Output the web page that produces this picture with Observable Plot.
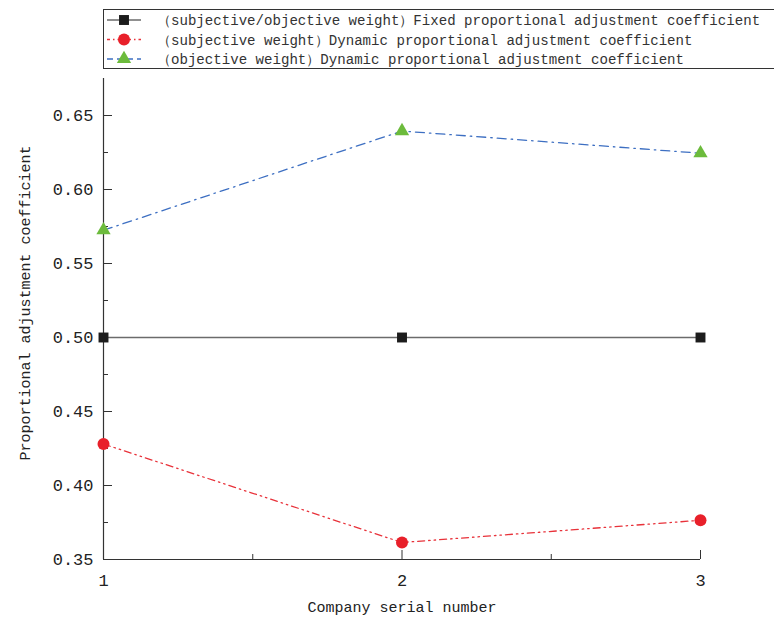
<!DOCTYPE html>
<html>
<head>
<meta charset="utf-8">
<script src="https://cdn.jsdelivr.net/npm/d3@7"></script>
<script src="https://cdn.jsdelivr.net/npm/@observablehq/plot@0.6"></script>
<style>
  html, body { margin: 0; padding: 0; background: #fff; }
  #wrap { position: relative; width: 774px; height: 618px; overflow: hidden; font-family: "Liberation Mono", monospace; }
  #legend { position: absolute; left: 103px; top: 9px; width: 690px; height: 60px; border: 1px solid #333; box-sizing: border-box; background: #fff; }
  #chart { position: absolute; left: 0; top: 0; }
</style>
</head>
<body>
<div id="wrap">
  <div id="chart"></div>
  <div id="legend"></div>
</div>
<script>
// ---- data ----
const companies = [1, 2, 3];
const fixedCoef = [0.5, 0.5, 0.5];
const subjectiveCoef = [0.428, 0.3615, 0.3765];
const objectiveCoef = [0.5725, 0.6395, 0.6245];
const seriesNames = [
  "（subjective/objective weight）Fixed proportional adjustment coefficient",
  "（subjective weight）Dynamic proportional adjustment coefficient",
  "（objective weight）Dynamic proportional adjustment coefficient"
];
const yTicks = [0.35, 0.40, 0.45, 0.50, 0.55, 0.60, 0.65];
const yMinorTicks = [0.375, 0.425, 0.475, 0.525, 0.575, 0.625];
const xTicks = [1, 2, 3];
const xMinorTicks = [1.5, 2.5];

// styles
const styles = [
  {stroke: "#6b6b6b", fill: "#1c1c1c", symbol: "square", r: 5.6, dash: null},
  {stroke: "#e8323a", fill: "#e8202a", symbol: "circle", r: 6, dash: "7,4,1.5,4,1.5,4"},
  {stroke: "#3d6fc2", fill: "#6cbb3c", symbol: "triangle", r: 5.3, dash: "9,5,1.5,5"}
];

const valueSets = [fixedCoef, subjectiveCoef, objectiveCoef];
const data = valueSets.flatMap((vals, si) =>
  companies.map((c, i) => ({series: seriesNames[si], si, x: c, y: vals[i]})));

const W = 774, H = 618;
const mL = 103, mR = 74, mT = 78, mB = 59;
const plotW = W - mL - mR, plotH = H - mT - mB;

const marks = [];
// axis lines
marks.push(Plot.ruleX([1], {stroke: "#333", strokeWidth: 1.2}));
marks.push(Plot.ruleY([0.35], {stroke: "#333", strokeWidth: 1.2}));
// inward ticks
marks.push(Plot.tickY(yTicks, {y: d => d, stroke: "#333", insetRight: plotW - 9}));
marks.push(Plot.tickY(yMinorTicks, {y: d => d, stroke: "#333", insetRight: plotW - 5}));
marks.push(Plot.tickX(xTicks, {x: d => d, stroke: "#333", insetTop: plotH - 9}));
marks.push(Plot.tickX(xMinorTicks, {x: d => d, stroke: "#333", insetTop: plotH - 5}));
// tick labels & titles
marks.push(Plot.axisY({ticks: yTicks, tickSize: 0, tickPadding: 10, tickFormat: d3.format(".2f"),
  fontSize: 17, fill: "#222", label: "Proportional adjustment coefficient", labelAnchor: "center",
  labelArrow: "none", labelOffset: 84}));
marks.push(Plot.axisX({ticks: xTicks, tickSize: 0, tickPadding: 14, tickFormat: d3.format("d"),
  fontSize: 17, fill: "#222", label: "Company serial number", labelAnchor: "center",
  labelArrow: "none", labelOffset: 52}));
// series
styles.forEach((s, si) => {
  const d = data.filter(e => e.si === si);
  marks.push(Plot.line(d, {x: "x", y: "y", stroke: s.stroke, strokeWidth: 1.3, strokeDasharray: s.dash}));
  marks.push(Plot.dot(d, {x: "x", y: "y", symbol: () => s.symbol, fill: s.fill, r: s.r, stroke: "none"}));
});

const chart = Plot.plot({
  width: W, height: H,
  marginLeft: mL, marginRight: mR, marginTop: mT, marginBottom: mB,
  style: {fontFamily: "'Liberation Mono', monospace", fontSize: "15px", color: "#222", background: "#fff"},
  x: {domain: [1, 3], axis: null},
  y: {domain: [0.35, 0.675], axis: null},
  marks
});
document.getElementById("chart").appendChild(chart);
// axis title font size and placement
d3.select(chart).selectAll("[aria-label='y-axis label'] text, [aria-label='x-axis label'] text").attr("font-size", 15);
d3.select(chart).selectAll("[aria-label='y-axis label'] text").attr("dx", 16);

// legend
const lg = d3.select("#legend").append("svg").attr("width", 690).attr("height", 60)
  .style("font-family", "'Liberation Mono', monospace");
styles.forEach((s, i) => {
  const cy = 10 + i * 19.5;
  const g = lg.append("g").attr("transform", `translate(0,${cy})`);
  g.append("line").attr("x1", 3).attr("x2", 37).attr("stroke", s.stroke).attr("stroke-width", 1.5)
    .attr("stroke-dasharray", s.dash ? (i === 1 ? "3,3,1.5,3" : "6,4") : null);
  const sym = d3.symbol().type(s.symbol === "square" ? d3.symbolSquare : s.symbol === "circle" ? d3.symbolCircle : d3.symbolTriangle)
    .size(Math.PI * s.r * s.r);
  g.append("path").attr("d", sym()).attr("transform", "translate(20,0)").attr("fill", s.fill);
  g.append("text").attr("x", 53).attr("y", 5).attr("font-size", 14.1).attr("fill", "#333").text(seriesNames[i]);
});
</script>
</body>
</html>
